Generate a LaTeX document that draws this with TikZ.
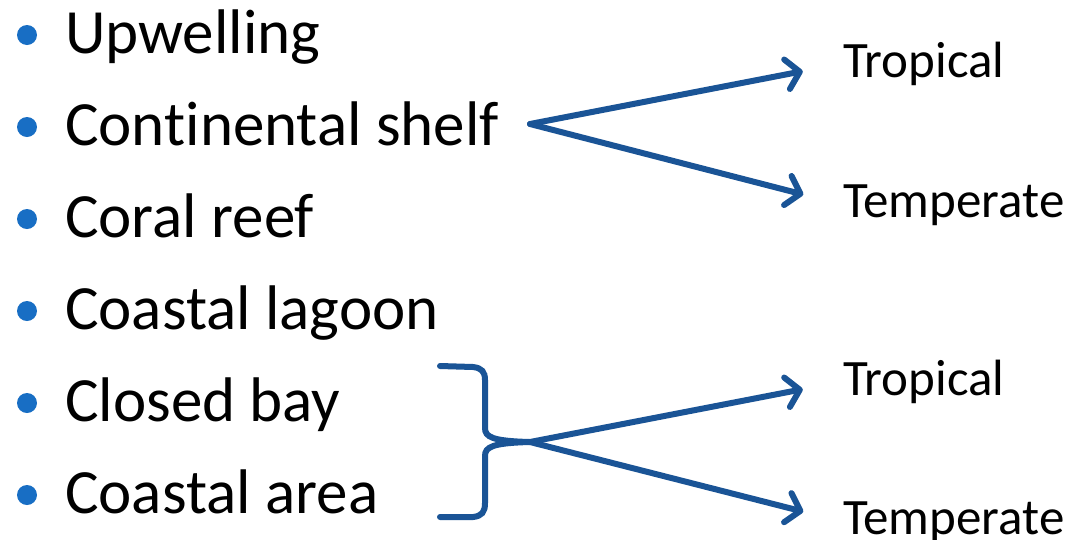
\documentclass[tikz,border=0pt]{standalone}
\usepackage{fontspec}
\setmainfont[Ligatures=NoCommon]{Carlito}
\usetikzlibrary{arrows.meta,calc,positioning}
\definecolor{ArrowClr}{RGB}{26,84,150}
\definecolor{DotClr}{RGB}{24,110,196}

\tikzset{
  item/.style={anchor=base west,inner sep=0pt,font=\fontsize{63}{63}\selectfont},
  kind/.style={anchor=base west,inner sep=0pt,font=\fontsize{51}{51}\selectfont},
  dot/.style={circle,fill=DotClr,inner sep=0pt,minimum size=20pt},
  fork/.style={draw=ArrowClr,line width=6pt,line cap=round,line join=round,
    -{Straight Barb[round,length=13pt,width=30pt]},shorten >=41pt},
  brace/.style={draw=ArrowClr,line width=6pt,line cap=round}
}

\begin{document}
\begin{tikzpicture}[x=1pt,y=-1pt]
\useasboundingbox[fill=white] (0,0) rectangle (1073,539);

% list of habitats
\foreach \txt [count=\i] in {Upwelling,Continental shelf,Coral reef,Coastal lagoon,Closed bay,Coastal area}{
  \node[item] (it\i) at (65,{53+92*(\i-1)}) {\txt};
  \node[dot] (bu\i) at (27,{35+92*(\i-1)}) {};
}

% climate labels
\node[kind] (trop1) at (843,77) {Tropical};
\node[kind] (temp1) at (843,217) {Temperate};
\node[kind] (trop2) at (843,395) {Tropical};
\node[kind] (temp2) at (843,534) {Temperate};

% continental shelf split
\coordinate (shelf) at (530,124);
\draw[fork] (shelf) -- (trop1.west);
\draw[fork] (shelf) -- (temp1.west);

% brace for bay and coastal area
\coordinate (tip) at (530,442);
\draw[brace] (440,366) -- (473,367) .. controls (482,368) and (485,372) .. (485,380)
  -- (485,428) .. controls (485,437) and (492,441) .. (tip)
  .. controls (492,443) and (485,447) .. (485,456)
  -- (485,503) .. controls (485,512) and (482,516) .. (473,517) -- (440,517);
\draw[fork] (tip) -- (trop2.west);
\draw[fork] (tip) -- (temp2.west);
\end{tikzpicture}
\end{document}
